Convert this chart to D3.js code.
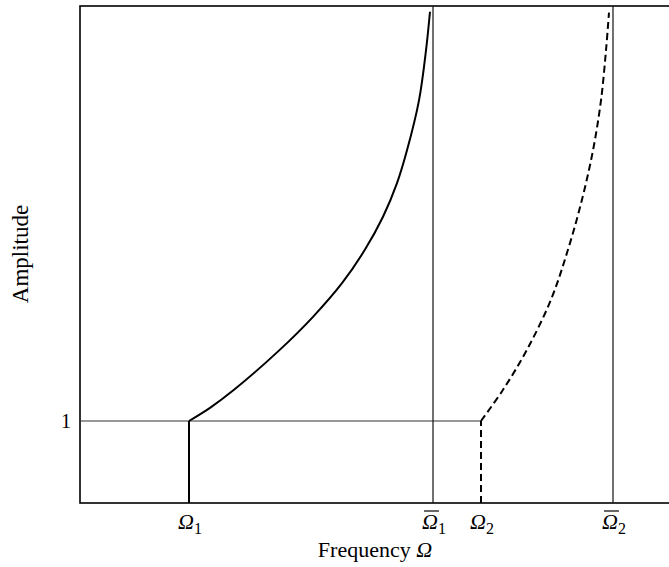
<!DOCTYPE html>
<html>
<head>
<meta charset="utf-8">
<script src="https://cdn.jsdelivr.net/npm/d3@7"></script>
<style>
  body { margin: 0; background: #fff; }
  text { font-family: "Liberation Serif", "DejaVu Serif", serif; fill: #000; }
</style>
</head>
<body>
<svg id="chart" width="669" height="567"></svg>
<script>
// frequency positions of the marked values
var tickValues = [1.09, 3.53, 4.01, 5.33];
var tickSubs = ['1', '1', '2', '2'];
var tickBars = [false, true, false, true];

// first branch (solid), from (Omega1, 1) up to the top
var branch1X = [1.09, 1.30, 1.54, 2.00, 2.33, 2.62, 2.85, 3.03, 3.17, 3.27, 3.39, 3.46, 3.50];
var branch1Y = [1.00, 1.16, 1.38, 1.87, 2.27, 2.68, 3.09, 3.49, 3.90, 4.30, 4.91, 5.52, 5.99];

// second branch (dashed), from (Omega2, 1) up to the top
var branch2X = [4.01, 4.23, 4.47, 4.71, 4.88, 5.02, 5.13, 5.21, 5.26, 5.29];
var branch2Y = [1.00, 1.38, 1.87, 2.48, 3.09, 3.70, 4.30, 4.91, 5.52, 5.98];

var svg = d3.select('#chart');

var x = d3.scaleLinear().domain([0, 6]).range([80, 680]);
var y = d3.scaleLinear().domain([0, 6.06]).range([503, 6]);

var line = d3.line()
  .x(function(d) { return x(d[0]); })
  .y(function(d) { return y(d[1]); })
  .curve(d3.curveCatmullRom.alpha(0.5));

// frame
svg.append('rect')
  .attr('x', x(0)).attr('y', y(6.06))
  .attr('width', x(6) - x(0)).attr('height', y(0) - y(6.06))
  .attr('fill', 'none').attr('stroke', '#000').attr('stroke-width', 1.6);

// amplitude = 1 level
svg.append('line')
  .attr('x1', x(0)).attr('x2', x(tickValues[2]))
  .attr('y1', y(1)).attr('y2', y(1))
  .attr('stroke', '#333').attr('stroke-width', 1.2);

// limit frequencies (bar values)
[1, 3].forEach(function(i) {
  svg.append('line')
    .attr('x1', x(tickValues[i])).attr('x2', x(tickValues[i]))
    .attr('y1', y(0)).attr('y2', y(6.06))
    .attr('stroke', '#111').attr('stroke-width', 1.2);
});

// vertical starts of the branches
svg.append('line')
  .attr('x1', x(tickValues[0])).attr('x2', x(tickValues[0]))
  .attr('y1', y(0)).attr('y2', y(1))
  .attr('stroke', '#000').attr('stroke-width', 2);
svg.append('line')
  .attr('x1', x(tickValues[2])).attr('x2', x(tickValues[2]))
  .attr('y1', y(0)).attr('y2', y(1))
  .attr('stroke', '#000').attr('stroke-width', 2)
  .attr('stroke-dasharray', '7,4');

svg.append('path')
  .datum(d3.zip(branch1X, branch1Y))
  .attr('d', line)
  .attr('fill', 'none').attr('stroke', '#000').attr('stroke-width', 2);

svg.append('path')
  .datum(d3.zip(branch2X, branch2Y))
  .attr('d', line)
  .attr('fill', 'none').attr('stroke', '#000').attr('stroke-width', 2)
  .attr('stroke-dasharray', '7,4');

// x tick labels
tickValues.forEach(function(v, i) {
  var t = svg.append('text')
    .attr('x', x(v) + 1)
    .attr('y', 529)
    .attr('text-anchor', 'middle');
  t.append('tspan')
    .attr('font-style', 'italic')
    .attr('font-size', 22)
    .text('Ω');
  t.append('tspan')
    .attr('font-size', 16)
    .attr('dy', 5)
    .text(tickSubs[i]);
  if (tickBars[i]) {
    var node = t.node();
    var x0 = node.getStartPositionOfChar(0).x;
    var x1 = node.getEndPositionOfChar(0).x;
    svg.append('line')
      .attr('x1', x0 + 2).attr('x2', x1 + 1)
      .attr('y1', 511).attr('y2', 511)
      .attr('stroke', '#000').attr('stroke-width', 1.2);
  }
});

// y tick label
svg.append('text')
  .attr('x', 71).attr('y', 428)
  .attr('text-anchor', 'end')
  .attr('font-size', 20)
  .text('1');

// axis titles
var xt = svg.append('text')
  .attr('x', 375).attr('y', 557)
  .attr('text-anchor', 'middle')
  .attr('font-size', 22);
xt.append('tspan').text('Frequency ');
xt.append('tspan').attr('font-style', 'italic').text('Ω');

svg.append('text')
  .attr('transform', 'translate(28,254) rotate(-90)')
  .attr('text-anchor', 'middle')
  .attr('font-size', 23)
  .text('Amplitude');
</script>
</body>
</html>
